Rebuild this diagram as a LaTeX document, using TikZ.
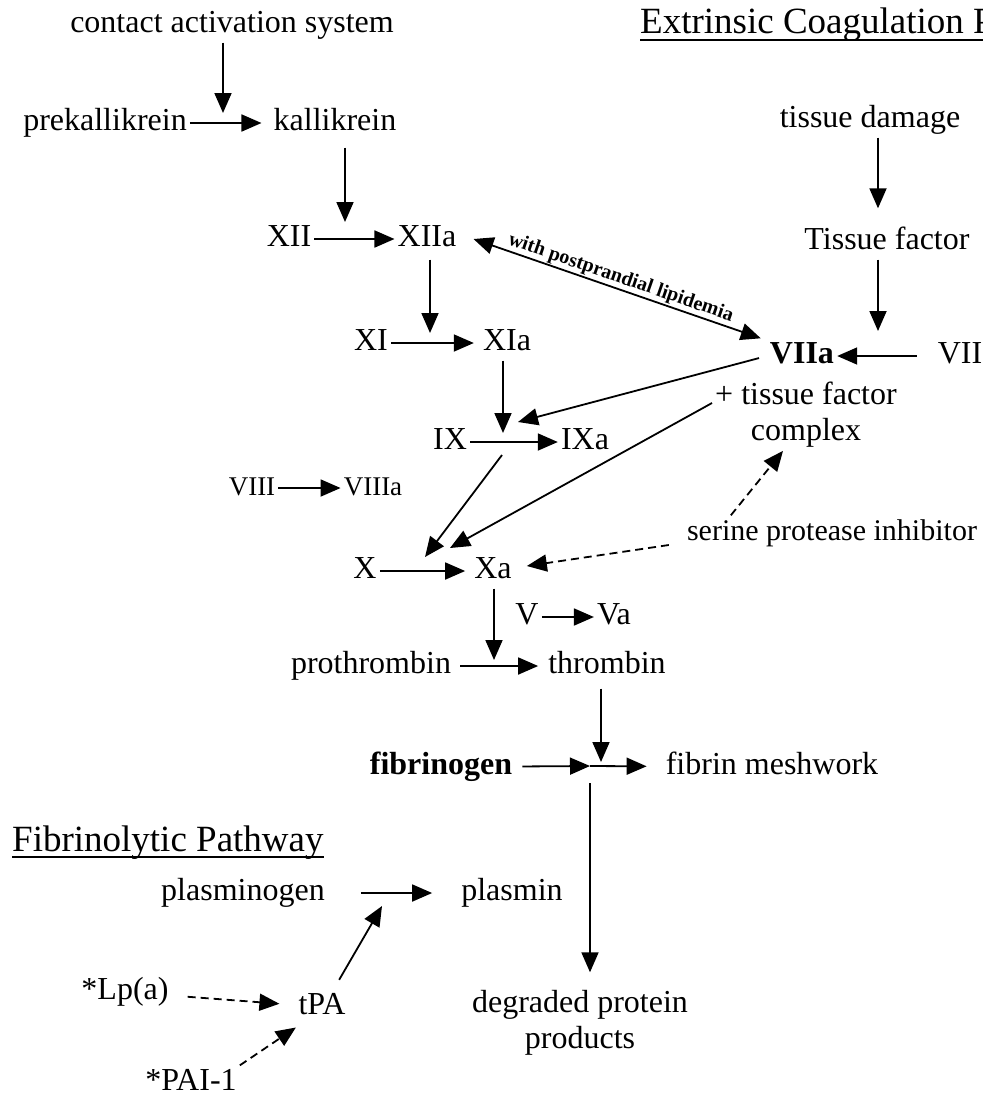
\documentclass[tikz,border=0pt]{standalone}
\usepackage{fontspec}
\setmainfont{Liberation Serif}
\usetikzlibrary{arrows.meta,positioning}

\begin{document}
\begin{tikzpicture}[
    x=1pt, y=-1pt,
    font=\fontsize{32}{36}\selectfont,
    term/.style={inner sep=3pt, text height=22pt, text depth=7pt},
    boldterm/.style={term, font=\fontsize{32}{36}\selectfont\bfseries},
    smallterm/.style={term, font=\fontsize{27}{30}\selectfont},
    multi/.style={inner sep=3pt, align=center},
    heading/.style={inner sep=0pt, anchor=base west, font=\fontsize{37}{42}\selectfont},
    arrow/.style={-{Triangle[length=20pt,width=17pt]}, line width=1.8pt},
    dasharrow/.style={arrow, dash pattern=on 8pt off 5pt},
    twoway/.style={{Triangle[length=20pt,width=17pt]}-{Triangle[length=20pt,width=17pt]}, line width=1.8pt}
]
\fill[white] (0,0) rectangle (983,1096);
\useasboundingbox (0,0) rectangle (983,1096);
\clip (0,0) rectangle (983,1096);

\node[term] (cas) at (232,25) {contact activation system};
\node[heading] (ext) at (640,33) {Extrinsic Coagulation Pathway};
\node[term] (prek) at (105,123) {prekallikrein};
\node[term] (kall) at (335,123) {kallikrein};
\node[term] (td) at (870,120) {tissue damage};
\node[term] (xii) at (289,239) {XII};
\node[term] (xiia) at (427,239) {XIIa};
\node[term] (tf) at (887,242) {Tissue factor};
\node[term] (xi) at (371,343) {XI};
\node[term] (xia) at (507,343) {XIa};
\node[boldterm] (viia) at (802,356) {VIIa};
\node[term] (vii) at (960,356) {VII};
\node[multi] (tfc) at (806,415) {+ tissue factor\\complex};
\node[term] (ix) at (450,442) {IX};
\node[term] (ixa) at (585,442) {IXa};
\node[smallterm] (viii) at (252,488) {VIII};
\node[smallterm] (viiia) at (373,488) {VIIIa};
\node[term, font=\fontsize{30}{34}\selectfont] (spi) at (832,533) {serine protease inhibitor};
\node[term] (x) at (365,571) {X};
\node[term] (xa) at (493,571) {Xa};
\node[term] (v) at (527,617) {V};
\node[term] (va) at (614,617) {Va};
\node[term] (proth) at (371,666) {prothrombin};
\node[term] (thromb) at (607,666) {thrombin};
\node[boldterm] (fbg) at (441,767) {fibrinogen};
\node[term] (fbm) at (772,767) {fibrin meshwork};
\node[heading] (fib) at (12,851) {Fibrinolytic Pathway};
\node[term] (plg) at (243,893) {plasminogen};
\node[term] (pls) at (512,893) {plasmin};
\node[term] (lpa) at (125,992) {*Lp(a)};
\node[term] (tpa) at (322,1007) {tPA};
\node[term] (pai) at (191,1083) {*PAI-1};
\node[multi] (deg) at (580,1023) {degraded protein\\products};

\coordinate (j1) at (223,113);
\coordinate (j2) at (345,222);
\coordinate (j3) at (430,333);
\coordinate (j4) at (878,331);
\coordinate (j5) at (518,422);
\coordinate (j6) at (503,433);
\coordinate (j7) at (502,455);
\coordinate (j8) at (425,557);
\coordinate (j9) at (450,548);
\coordinate (j10) at (494,660);
\coordinate (j11) at (590,766);
\coordinate (j12) at (601,762);
\coordinate (j13) at (382,906);

\draw[line width=1.3pt] ([yshift=-7pt]ext.base west) -- ([yshift=-7pt]ext.base east);
\draw[line width=1.3pt] ([yshift=-6pt]fib.base west) -- ([yshift=-6pt]fib.base east);

\draw[arrow] (cas.south -| j1) -- (j1);
\draw[arrow, shorten >=9pt] (prek) -- (kall);
\draw[arrow, shorten <=7pt] (kall.south -| j2) -- (j2);
\draw[arrow] (xii) -- (xiia);
\draw[arrow, shorten <=3pt] (xiia.south -| j3) -- (j3);
\draw[twoway] ([xshift=14pt]xiia.east) -- ([xshift=-6pt]viia.north west)
    node[sloped, above, pos=0.5, inner sep=1pt, font=\fontsize{20}{22}\selectfont\bfseries] {with postprandial lipidemia};
\draw[arrow, shorten >=16pt] ([xshift=8pt]td.south) -- ([xshift=-9pt]tf.north);
\draw[arrow] (tf.south -| j4) -- (j4);
\draw[arrow, shorten <=18pt] (vii) -- (viia);
\draw[arrow, shorten <=8pt] (viia.west) -- (j5);
\draw[arrow, shorten >=6pt] (xi) -- (xia);
\draw[arrow] (xia.south -| j6) -- (j6);
\draw[arrow] (ix) -- (ixa);
\draw[arrow] ([yshift=12pt]tfc.west) -- (j9);
\draw[arrow] (j7) -- (j8);
\draw[arrow] (viii) -- (viiia);
\draw[dasharrow] ([shift={(-15pt,-12pt)}]spi.west) -- ([shift={(12pt,5pt)}]xa.east);
\draw[dasharrow] ([xshift=47pt]spi.north west) -- ([xshift=-23pt]tfc.south);
\draw[arrow, shorten >=6pt] (x) -- (xa);
\draw[arrow] (xa.south -| j10) -- (j10);
\draw[arrow] (v) -- (va);
\draw[arrow, shorten <=6pt, shorten >=7pt] (proth) -- (thromb);
\draw[arrow, shorten <=5pt] (thromb.south -| j12) -- (j12);
\draw[arrow, shorten <=7pt] (fbg) -- (j11);
\draw[arrow, shorten >=16pt] (j11) -- (fbm);
\draw[arrow, shorten <=17pt, shorten >=15pt] (j11) -- (j11 |- deg.north);
\draw[arrow, shorten <=33pt, shorten >=26pt] (plg) -- (pls);
\draw[arrow, shorten <=11pt] ([xshift=-15pt]tpa.north east) -- (j13);
\draw[dasharrow, shorten <=16pt, shorten >=16pt] (lpa) -- (tpa);
\draw[dasharrow, shorten >=5pt] (pai.north east) -- ([xshift=-22pt]tpa.south);
\end{tikzpicture}
\end{document}
